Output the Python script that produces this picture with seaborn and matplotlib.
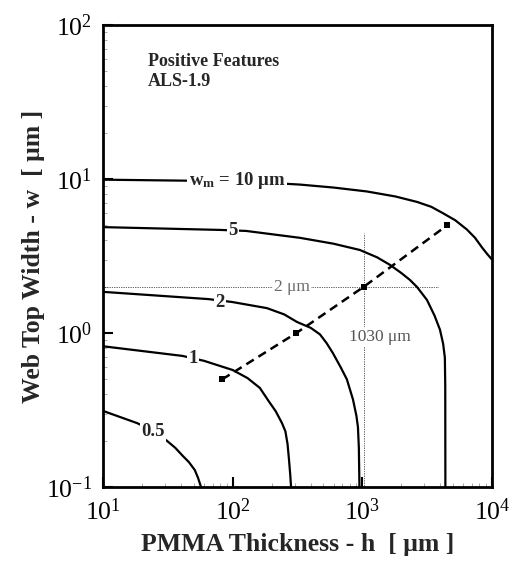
import numpy as np
import pandas as pd
import matplotlib
matplotlib.use("Agg")
import matplotlib.pyplot as plt
import seaborn as sns

# Web top width w [um] versus PMMA thickness h [um], one curve per mask width wm
h_w10 = [10, 45, 150, 330, 600, 1084, 1800, 2640, 3400, 4180, 5200, 6400, 7400, 8360, 9200, 10000]
w_w10 = [9.9, 9.75, 9.55, 9.2, 8.8, 8.3, 7.7, 7.1, 6.6, 6.0, 5.4, 4.7, 4.15, 3.6, 3.25, 3.0]

h_w5 = [10, 80, 127, 330, 600, 957, 1300, 1633, 2000, 2330, 2640, 3150, 3600, 3970, 4200, 4330, 4360, 4370]
w_w5 = [4.87, 4.67, 4.6, 4.15, 3.8, 3.46, 3.1, 2.77, 2.45, 2.21, 1.99, 1.64, 1.3, 1.05, 0.85, 0.69, 0.45, 0.1]

h_w2 = [10, 65, 99, 184, 250, 313, 400, 471, 530, 593, 680, 760, 847, 900, 925, 940, 950]
w_w2 = [1.85, 1.66, 1.59, 1.45, 1.32, 1.18, 1.08, 0.98, 0.86, 0.74, 0.6, 0.50, 0.37, 0.29, 0.245, 0.18, 0.1]

h_w1 = [10, 41, 60, 100, 130, 162, 190, 215, 240, 255, 265, 272, 278, 282]
w_w1 = [0.82, 0.71, 0.66, 0.575, 0.51, 0.44, 0.36, 0.31, 0.26, 0.23, 0.19, 0.15, 0.12, 0.1]

h_w05 = [10, 18.3, 25, 31, 36, 41, 46, 51, 54, 57]
w_w05 = [0.312, 0.26, 0.23, 0.20, 0.18, 0.16, 0.145, 0.129, 0.115, 0.1]

# Design points joined by the dashed line
h_design = [83, 310, 1030, 4500]
w_design = [0.5, 1.0, 2.0, 5.0]

# Curve labels and where they sit
curve_names = ["10", "5", "2", "1", "0.5"]
label_h = [108, 100, 80, 49.4, 24.3]
label_w = [9.85, 4.6, 1.57, 0.68, 0.228]

curves = {"10": (h_w10, w_w10), "5": (h_w5, w_w5), "2": (h_w2, w_w2),
          "1": (h_w1, w_w1), "0.5": (h_w05, w_w05)}

rows = []
for name, (hs, ws) in curves.items():
    for i, (h, w) in enumerate(zip(hs, ws)):
        rows.append({"wm": name, "idx": i, "h": h, "w": w})
df = pd.DataFrame(rows)

sns.set_theme(style="white")
plt.rcParams["font.family"] = ["Liberation Serif", "DejaVu Serif"]
plt.rcParams["mathtext.fontset"] = "custom"
plt.rcParams["mathtext.rm"] = "Liberation Serif"
plt.rcParams["mathtext.it"] = "Liberation Serif:italic"
plt.rcParams["mathtext.bf"] = "Liberation Serif:bold"

fig = plt.figure(figsize=(5.2, 5.66), dpi=100)
ax = fig.add_axes([103 / 520, 1 - 487 / 566, (492 - 103) / 520, (487 - 25) / 566])

sns.lineplot(data=df, x="h", y="w", units="wm", estimator=None, sort=False,
             color="black", linewidth=1.6, ax=ax, legend=False)

sns.lineplot(x=h_design, y=w_design, sort=False, estimator=None, color="black",
             linewidth=1.8, marker="s", markersize=5, markeredgewidth=0,
             ax=ax, legend=False)
ax.lines[-1].set_dashes((3.5, 2.2))

ax.set_xscale("log")
ax.set_yscale("log")
ax.set_xlim(10, 1e4)
ax.set_ylim(0.1, 100)

# Dotted crosshair through the 2 um / 1030 um design point
ax.plot([10, 3830], [2, 2], color="black", linestyle=(0, (0.6, 1.2)), linewidth=0.7)
ax.plot([1030, 1030], [0.1, 4.45], color="black", linestyle=(0, (0.6, 1.2)), linewidth=0.7)
ax.text(287, 2.0, "2 μm", fontsize=12.5, color="#6a6a6a", ha="center", va="center",
        bbox=dict(facecolor="white", edgecolor="none", pad=0.5))
ax.text(1370, 0.94, "1030 μm", fontsize=12.5, color="#555555", ha="center", va="center",
        bbox=dict(facecolor="white", edgecolor="none", pad=1.5))

# Curve labels drawn over the lines
for name, lh, lw in zip(curve_names, label_h, label_w):
    if name == "10":
        txt = r"$\mathbf{w}_{\mathbf{m}}$ = 10 μm"
    else:
        txt = name
    ax.text(lh, lw, txt, fontsize=13.5, fontweight="bold", ha="center", va="center",
            bbox=dict(facecolor="white", edgecolor="none", pad=1.0))

ax.text(0.116, 0.92, "Positive Features", transform=ax.transAxes, fontsize=13,
        fontweight="bold", ha="left", va="center")
ax.text(0.116, 0.877, "ALS-1.9", transform=ax.transAxes, fontsize=13,
        fontweight="bold", ha="left", va="center")

ax.set_xlabel("PMMA Thickness - h  [ μm ]", fontsize=18.5, fontweight="bold", labelpad=6)
ax.set_ylabel("Web Top Width - w  [ μm ]", fontsize=18.5, fontweight="bold", labelpad=0.5)

for side in ["left", "right", "top", "bottom"]:
    ax.spines[side].set_visible(True)
    ax.spines[side].set_color("black")
    ax.spines[side].set_linewidth(2.0)

ax.tick_params(which="major", direction="in", length=7, width=1.5, labelsize=18.5,
               pad=8, bottom=True, left=True, top=False, right=False, colors="black")
ax.tick_params(which="minor", direction="in", length=3, width=0.5,
               bottom=True, left=True, top=False, right=False, colors="#888888")

fig.savefig("out.png", dpi=100)
